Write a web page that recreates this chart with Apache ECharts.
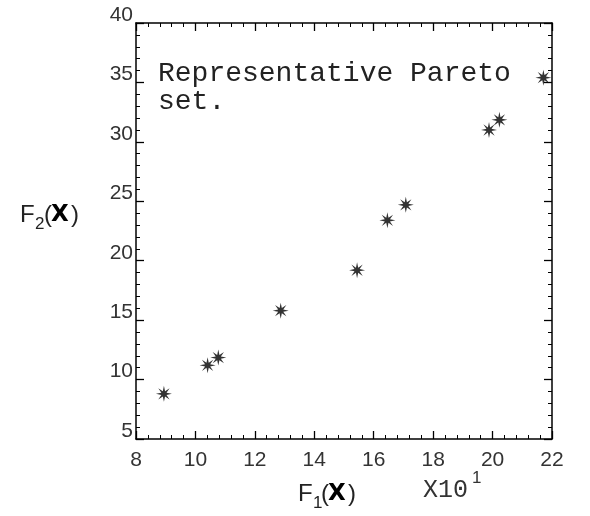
<!DOCTYPE html>
<html>
<head>
<meta charset="utf-8">
<script src="https://cdn.jsdelivr.net/npm/echarts@6/dist/echarts.min.js"></script>
<style>html,body{margin:0;padding:0;background:#fff;}#c{width:590px;height:516px;}</style>
</head>
<body>
<div id="c"></div>
<script>
// Data (F1 in units of x10^1)
const f1Values = [8.94, 10.41, 10.77, 12.87, 15.44, 16.46, 17.08, 19.88, 20.23, 21.71];
const f2Values = [8.8, 11.2, 11.85, 15.8, 19.2, 23.4, 24.7, 31.0, 31.85, 35.4];
const xTicks = [8, 10, 12, 14, 16, 18, 20, 22];
const yTicks = [5, 10, 15, 20, 25, 30, 35, 40];
const noteLines = ['Representative Pareto', 'set.'];

const points = f1Values.map((x, i) => [x, f2Values[i]]);
const starPath = 'path://M20 10 L13.2 11.4 L17.07 17.07 L11.4 13.2 L10 20 L8.6 13.2 L2.93 17.07 L6.8 11.4 L0 10 L6.8 8.6 L2.93 2.93 L8.6 6.8 L10 0 L11.4 6.8 L17.07 2.93 L13.2 8.6 Z';

const lineStyle = { color: '#000', width: 1.5 };
const tickCommon = {
  axisLine: { show: true, onZero: false, lineStyle: lineStyle },
  axisTick: { show: true, inside: true, length: 8, lineStyle: { color: '#000', width: 1.3 } },
  minorTick: { show: true, splitNumber: 5, length: 4, lineStyle: { color: '#000', width: 1 } },
  splitLine: { show: false },
  minorSplitLine: { show: false }
};
const labelFont = { fontFamily: 'Liberation Sans', fontSize: 21, color: '#333' };

function txt(x, y, s, font, color) {
  return { type: 'text', left: x, top: y, style: { text: s, font: font, fill: color || '#222' } };
}

const chart = echarts.init(document.getElementById('c'), null, { renderer: 'canvas' });
chart.setOption({
  animation: false,
  backgroundColor: '#fff',
  grid: { left: 136, right: 38, top: 23, bottom: 77 },
  xAxis: [
    Object.assign({
      type: 'value', min: xTicks[0], max: xTicks[xTicks.length - 1], interval: 2, position: 'bottom',
      axisLabel: Object.assign({ margin: 11, formatter: v => xTicks.includes(v) ? String(v) : '' }, labelFont)
    }, tickCommon),
    Object.assign({
      type: 'value', min: xTicks[0], max: xTicks[xTicks.length - 1], interval: 2, position: 'top',
      axisLabel: { show: false }
    }, tickCommon)
  ],
  yAxis: [
    Object.assign({
      type: 'value', min: yTicks[0], max: yTicks[yTicks.length - 1], interval: 5, position: 'left',
      axisLabel: Object.assign({ margin: 3, verticalAlign: 'bottom', lineHeight: 16,
        formatter: v => yTicks.includes(v) ? String(v) : '' }, labelFont)
    }, tickCommon),
    Object.assign({
      type: 'value', min: yTicks[0], max: yTicks[yTicks.length - 1], interval: 5, position: 'right',
      axisLabel: { show: false }
    }, tickCommon)
  ],
  series: [{
    type: 'scatter',
    data: points,
    symbol: starPath,
    symbolSize: 16,
    itemStyle: { color: '#000' }
  }],
  graphic: [
    {
      type: 'text', left: 158, top: 60,
      style: {
        text: noteLines.join('\n'),
        font: '28px "Liberation Mono"',
        lineHeight: 28,
        fill: '#222'
      }
    },
    txt(20, 203, 'F', '24px "Liberation Sans"'),
    txt(35, 216, '2', '17px "Liberation Sans"'),
    txt(44, 203, '(', '24px "Liberation Sans"'),
    txt(51, 204, 'X', 'bold 23px "DejaVu Sans"', '#000'),
    txt(71, 203, ')', '24px "Liberation Sans"'),
    txt(298, 482, 'F', '24px "Liberation Sans"'),
    txt(313, 495, '1', '17px "Liberation Sans"'),
    txt(321, 482, '(', '24px "Liberation Sans"'),
    txt(328, 483, 'X', 'bold 23px "DejaVu Sans"', '#000'),
    txt(348, 482, ')', '24px "Liberation Sans"'),
    txt(423, 478, 'X10', '25px "Liberation Mono"', '#333'),
    txt(472, 470, '1', '17px "Liberation Sans"', '#333')
  ]
});
</script>
</body>
</html>
